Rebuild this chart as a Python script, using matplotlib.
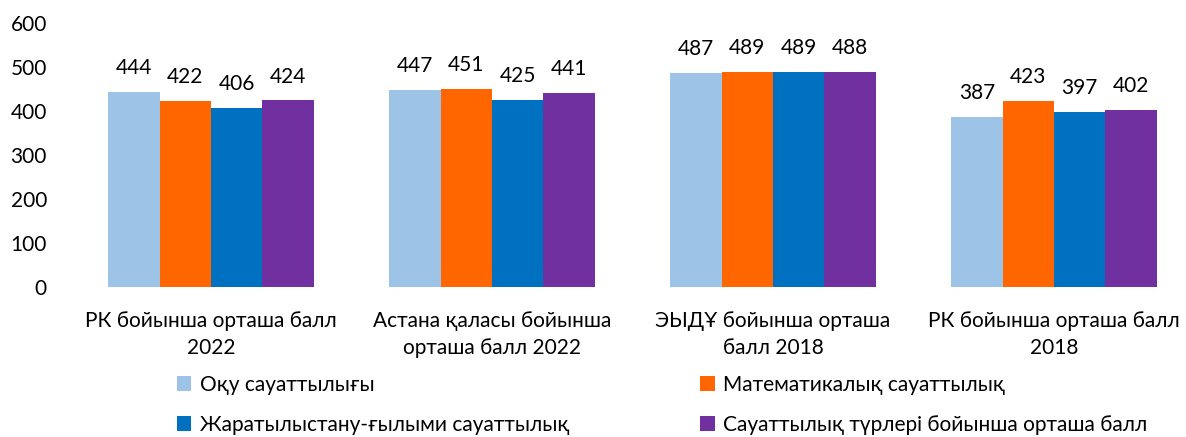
import matplotlib.pyplot as plt
import numpy as np

FONT = ["Lato", "Noto Sans", "DejaVu Sans"]
FONT_SIZE = 15
BAR_WIDTH = 0.183

COLOR_READ = "#9DC3E6"
COLOR_MATH = "#FF6600"
COLOR_SCI = "#0070C0"
COLOR_AVG = "#7030A0"

categories = [
    "РК бойынша орташа балл\n2022",
    "Астана қаласы бойынша\nорташа балл 2022",
    "ЭЫДҰ бойынша орташа\nбалл 2018",
    "РК бойынша орташа балл\n2018",
]
series_names = [
    "Оқу сауаттылығы",
    "Математикалық сауаттылық",
    "Жаратылыстану-ғылыми сауаттылық",
    "Сауаттылық түрлері бойынша орташа балл",
]
reading = [444, 447, 487, 387]
math = [422, 451, 489, 423]
science = [406, 425, 489, 397]
average = [424, 441, 488, 402]

plt.rcParams["font.family"] = FONT

x = np.arange(len(categories))
fig = plt.figure(figsize=(11.86, 4.37), dpi=100)
ax = fig.add_axes([70.5 / 1186, 150 / 437, 1115.5 / 1186, 264 / 437])

all_series = [reading, math, science, average]
colors = [COLOR_READ, COLOR_MATH, COLOR_SCI, COLOR_AVG]
offsets = [-1.5, -0.5, 0.5, 1.5]
bars = []
for vals, col, off, name in zip(all_series, colors, offsets, series_names):
    rects = ax.bar(x + off * BAR_WIDTH, vals, BAR_WIDTH, color=col, label=name)
    bars.append(rects)
    for rect in rects:
        h = rect.get_height()
        ax.annotate(
            f"{h:.0f}",
            xy=(rect.get_x() + rect.get_width() / 2, h),
            xytext=(0, 10),
            textcoords="offset points",
            ha="center",
            va="bottom",
            fontsize=FONT_SIZE,
        )

ax.set_xlim(-0.5, 3.47)
ax.set_ylim(0, 600)
ax.set_yticks(np.arange(0, 601, 100))
ax.set_xticks(x)
ax.set_xticklabels(categories, fontsize=FONT_SIZE, linespacing=1.45)
ax.tick_params(axis="y", labelsize=FONT_SIZE, length=0, pad=17)
ax.tick_params(axis="x", length=0, pad=17)
for s in ax.spines.values():
    s.set_visible(False)

handles = [bars[0], bars[2], bars[1], bars[3]]
labels = [series_names[0], series_names[2], series_names[1], series_names[3]]
fig.legend(
    handles,
    labels,
    ncol=2,
    loc="upper left",
    bbox_to_anchor=(158 / 1186, 1 - 356 / 437),
    frameon=False,
    fontsize=FONT_SIZE,
    handlelength=0.7,
    handleheight=0.7,
    handletextpad=0.4,
    labelspacing=0.95,
    columnspacing=6.3,
)

fig.savefig("out.png", dpi=100)
